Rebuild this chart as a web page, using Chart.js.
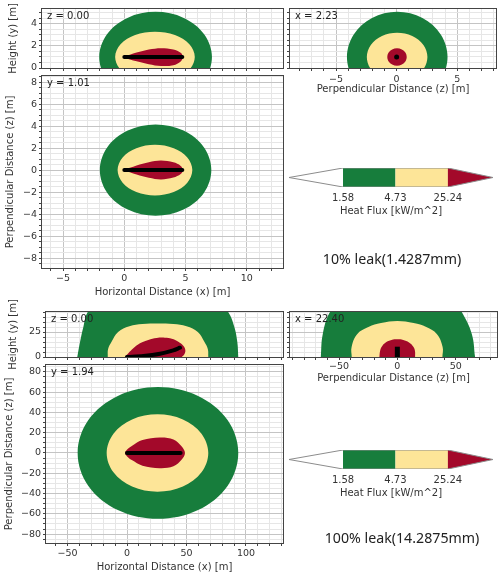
<!DOCTYPE html>
<html>
<head>
<meta charset="utf-8">
<script src="https://cdn.jsdelivr.net/npm/chart.js@4.4.1/dist/chart.umd.min.js"></script>
<style>
  html, body { margin: 0; padding: 0; background: #fff; }
  #wrap { position: relative; width: 500px; height: 574px; overflow: hidden; background: #fff; }
  #wrap canvas { position: absolute; }
  .caption { position: absolute; font-family: "Noto Sans", sans-serif; font-size: 14.2px; color: #222;
             white-space: nowrap; transform: translate(-50%, -50%); }
</style>
</head>
<body>
<div id="wrap">
  <canvas id="side10" width="290" height="75" style="left:0;top:0"></canvas>
  <canvas id="cross10" width="217" height="100" style="left:283px;top:0"></canvas>
  <canvas id="plan10" width="290" height="230" style="left:0;top:70px"></canvas>
  <canvas id="bar10" width="217" height="68" style="left:283px;top:150px"></canvas>
  <div class="caption" id="cap10" style="left:392px;top:258px"></div>
  <canvas id="side100" width="290" height="95" style="left:0;top:285px"></canvas>
  <canvas id="cross100" width="217" height="85" style="left:283px;top:300px"></canvas>
  <canvas id="plan100" width="290" height="215" style="left:0;top:359px"></canvas>
  <canvas id="bar100" width="217" height="68" style="left:283px;top:432px"></canvas>
  <div class="caption" id="cap100" style="left:402px;top:537px"></div>
</div>
<script>
// heat flux levels and band colours
const levels = [1.58, 4.73, 25.24];
const fluxColors = ['#177d3c', '#fde598', '#a3092a'];
const barExtend = [1.03, 0.86];

// ---- 10% leak ----
const caption10 = '10% leak(1.4287mm)';
const labels10 = ['z = 0.00', 'x = 2.23', 'y = 1.01'];
// side view (x, height)
const side10Green = [[7.15,1],[6.53,3.05],[4.85,4.55],[2.55,5.1],[0.25,4.55],[-1.43,3.05],[-2.05,1],[-1.43,-1.05],[0.25,-2.55],[2.55,-3.1],[4.85,-2.55],[6.53,-1.05]];
const side10Yellow = [[5.75,1],[5.31,2.15],[4.13,2.99],[2.5,3.3],[0.88,2.99],[-0.31,2.15],[-0.75,1],[-0.31,-0.15],[0.88,-0.99],[2.5,-1.3],[4.13,-0.99],[5.31,-0.15]];
const side10Red = [[4.78,1.0],[4.6,1.38],[4.0,1.68],[3.0,1.8],[2.0,1.68],[1.0,1.4],[0.45,1.2],[-0.05,1.0],[0.45,0.78],[1.0,0.62],[2.0,0.35],[3.0,0.18],[4.0,0.25],[4.6,0.6]];
const side10Flame = [[0,1.01],[4.73,1.01]];
// cross view (z, height)
const cross10Green = [[4.2,1],[3.64,3.05],[2.13,4.55],[0.05,5.1],[-2.03,4.55],[-3.54,3.05],[-4.1,1],[-3.54,-1.05],[-2.03,-2.55],[0.05,-3.1],[2.13,-2.55],[3.64,-1.05]];
const cross10Yellow = [[2.54,1],[2.21,2.1],[1.29,2.91],[0.04,3.2],[-1.21,2.91],[-2.13,2.1],[-2.46,1],[-2.13,-0.1],[-1.21,-0.91],[0.04,-1.2],[1.29,-0.91],[2.21,-0.1]];
const cross10Red = [[0.83,1],[0.72,1.4],[0.43,1.69],[0.03,1.8],[-0.37,1.69],[-0.66,1.4],[-0.77,1],[-0.66,0.6],[-0.37,0.31],[0.03,0.2],[0.43,0.31],[0.72,0.6]];
const cross10Flame = [[0,1.01]];
// plan view (x, z)
const plan10Green = [[7.1,0],[6.49,2.08],[4.83,3.59],[2.55,4.15],[0.28,3.59],[-1.39,2.08],[-2.0,0],[-1.39,-2.08],[0.28,-3.59],[2.55,-4.15],[4.83,-3.59],[6.49,-2.08]];
const plan10Yellow = [[5.55,0],[5.14,1.15],[4.03,1.99],[2.5,2.3],[0.98,1.99],[-0.14,1.15],[-0.55,0],[-0.14,-1.15],[0.98,-1.99],[2.5,-2.3],[4.03,-1.99],[5.14,-1.15]];
const plan10Red = [[4.78,0],[4.6,0.38],[4.0,0.7],[3.0,0.86],[2.0,0.72],[1.0,0.42],[0.45,0.2],[-0.05,0],[0.45,-0.2],[1.0,-0.4],[2.0,-0.7],[3.0,-0.85],[4.0,-0.68],[4.6,-0.36]];
const plan10Flame = [[0,0],[4.73,0]];

// ---- 100% leak ----
const caption100 = '100% leak(14.2875mm)';
const labels100 = ['z = 0.00', 'x = 22.40', 'y = 1.94'];
const side100Green = [[-41.8,0],[-39.5,15],[-36.7,30],[-33,45],[-21,60],[26,79],[73,60],[85,45],[90.2,30],[92.7,15],[93.5,0]];
const side100Yellow = [[-16.2,0],[-15.9,8],[-13,15.3],[-7.5,25],[2,30.8],[13,33],[26,33.6],[39,33],[50,30.8],[59.5,25],[65,15.3],[67.9,8],[68.3,0]];
const side100Red = [[-1.7,0],[1.1,3.7],[5.3,8.7],[10.9,13.7],[17.9,17],[24.9,19],[31.9,19.3],[37.6,18.3],[43.1,15.3],[47.3,11.3],[49,7],[48.2,2.7],[46,0]];
const side100Flame = [[0,0],[13.7,1],[27.7,3.3],[38.9,6.7],[44.5,9.3]];
const cross100Green = [[-65.6,0],[-63.9,23],[-57.7,45],[-45,62],[0,80],[45,62],[55.2,45],[63.8,23],[66.6,0]];
const cross100Yellow = [[-39.1,0],[-39.2,10],[-34.3,23],[-24.8,30],[-14,34],[0,36],[14,34],[24.8,30],[33.8,23],[38.8,10],[38.6,0]];
const cross100Red = [[-15.4,0],[-14.8,6],[-13.4,10.3],[-10,14.5],[-5,17],[0,17.7],[5,17],[10,14.5],[13.7,10.3],[15.1,6],[15.2,0]];
const cross100Flame = [[0,0],[0,10.3]];
const plan100Green = [[93.5,0],[84.5,32.5],[59.75,56.3],[26,65],[-7.75,56.3],[-32.5,32.5],[-41.5,0],[-32.5,-32.5],[-7.75,-56.3],[26,-65],[59.75,-56.3],[84.5,-32.5]];
const plan100Yellow = [[68.3,0],[62.6,19.1],[46.95,33.1],[25.6,38.2],[4.25,33.1],[-11.4,19.1],[-17.1,0],[-11.4,-19.1],[4.25,-33.1],[25.6,-38.2],[46.95,-33.1],[62.6,-19.1]];
const plan100Red = [[48.7,0],[46,6.5],[39,13.4],[27.5,15.3],[13,12.7],[4,7],[1,4.5],[-1.7,0],[1,-4.5],[4,-7],[13,-12.5],[27.5,-15],[39,-13.2],[46,-6.5]];
const plan100Flame = [[0,0],[45,0]];

const FONT = "'DejaVu Sans', sans-serif";
const isMul = (v, m) => Math.abs(v / m - Math.round(v / m)) < 1e-6;
const fmt = v => (v < 0 ? '\u2212' : '') + Math.abs(Math.round(v * 100) / 100);
const toXY = pts => pts.map(([x, y]) => ({x, y}));

function region(pts, color, closed) {
  return { data: toXY(pts), backgroundColor: color, borderWidth: 0, pointRadius: 0,
           fill: 'shape', tension: closed ? 0.35 : 0.4, closed };
}
function flame(pts, width, cap) {
  return { data: toXY(pts), borderColor: '#000', borderWidth: width, borderCapStyle: cap || 'round',
           pointRadius: 0, fill: false, tension: 0.3 };
}

function axis(min, max, minor, major, o) {
  return {
    type: 'linear', min, max,
    afterBuildTicks: s => {
      const t = [];
      for (let k = Math.ceil(min / minor - 1e-9); k * minor <= max + 1e-9; k++) t.push({ value: +(k * minor).toFixed(6) });
      s.ticks = t;
    },
    ticks: { display: !!o.labels, autoSkip: false, maxRotation: 0,
             padding: o.pad ?? 2, color: '#333', font: { family: FONT, size: 9.5 },
             callback: v => isMul(v, major) ? fmt(v) : '' },
    grid: { color: c => c.tick && isMul(c.tick.value, major) ? '#c4c4c4' : '#e6e6e6',
            tickColor: '#444', tickLength: 3 },
    border: { display: false },
    title: { display: !!o.title, text: o.title || '', color: '#333', font: { family: FONT, size: 10 },
             padding: { top: o.tpad ?? 2, bottom: o.tpad ?? 2 } },
    afterFit: s => {
      if (s.isHorizontal()) s.height = o.size; else s.width = o.size;
      s.paddingLeft = s.paddingRight = s.paddingTop = s.paddingBottom = 0;
    }
  };
}

// closed outlines get joined smoothly like a radar line
const loopPlugin = {
  id: 'loopLines',
  afterDatasetsUpdate(chart) {
    chart.data.datasets.forEach((ds, i) => {
      if (!ds.closed) return;
      const line = chart.getDatasetMeta(i).dataset;
      if (line) { line._loop = true; line._fullLoop = true; }
    });
  }
};

// axes box, panel label and the rotated y title (drawn without squeezing)
const framePlugin = {
  id: 'panelLabel',
  afterDatasetsDraw(chart, args, opts) {
    const {ctx, chartArea: a} = chart;
    ctx.save();
    ctx.strokeStyle = '#444';
    ctx.lineWidth = 1;
    ctx.strokeRect(a.left - 0.5, a.top - 0.5, a.right - a.left + 1, a.bottom - a.top + 1);
    ctx.fillStyle = '#222';
    ctx.font = '10px ' + FONT;
    if (opts.text) {
      ctx.textBaseline = 'middle';
      ctx.fillText(opts.text, a.left + 5, a.top + 7);
    }
    if (opts.ytitle) {
      ctx.fillStyle = '#333';
      ctx.translate(opts.ytitleX, (a.top + a.bottom) / 2);
      ctx.rotate(-Math.PI / 2);
      ctx.textAlign = 'center';
      ctx.textBaseline = 'middle';
      ctx.fillText(opts.ytitle, 0, 0);
    }
    ctx.restore();
  }
};

function panel(id, pad, xs, ys, datasets, label, ytitle, ytitleX) {
  return new Chart(document.getElementById(id), {
    type: 'line',
    data: { datasets },
    options: {
      responsive: false, animation: false, events: [],
      layout: { padding: pad },
      elements: { line: { capBezierPoints: false } },
      plugins: { legend: { display: false }, tooltip: { enabled: false },
                 panelLabel: { text: label, ytitle, ytitleX } },
      scales: { x: xs, y: ys }
    },
    plugins: [loopPlugin, framePlugin]
  });
}

function colorbar(id) {
  const n = levels.length - 1;
  const lo = -barExtend[0], hi = n + barExtend[1];
  const ds = [];
  ds.push({ data: toXY([[lo,0.5],[0,1],[n,1],[hi,0.5],[n,0],[0,0],[lo,0.5]]), borderColor: '#8c8c8c',
            borderWidth: 1, fill: false, pointRadius: 0, tension: 0 });
  ds.push({ data: toXY([[n,0],[n,1],[hi,0.5]]), backgroundColor: fluxColors[n], borderWidth: 0,
            fill: 'shape', pointRadius: 0, tension: 0 });
  for (let i = n - 1; i >= 0; i--) {
    ds.push({ data: toXY([[i,0],[i,1],[i+1,1],[i+1,0]]), backgroundColor: fluxColors[i], borderWidth: 0,
              fill: 'shape', pointRadius: 0, tension: 0 });
  }
  ds.push({ data: toXY([[lo,0.5],[0,1],[0,0]]), backgroundColor: '#fff', borderWidth: 0,
            fill: 'shape', pointRadius: 0, tension: 0 });
  return new Chart(document.getElementById(id), {
    type: 'line',
    data: { datasets: ds },
    options: {
      responsive: false, animation: false, events: [],
      layout: { padding: { top: 18, right: 7, bottom: 0, left: 6 } },
      plugins: { legend: { display: false }, tooltip: { enabled: false } },
      scales: {
        x: { type: 'linear', min: lo, max: hi,
             afterBuildTicks: s => { s.ticks = levels.map((_, i) => ({ value: i })); },
             ticks: { autoSkip: false, maxRotation: 0, padding: 5, color: '#333', font: { family: FONT, size: 10 },
                      callback: v => levels[Math.round(v)].toFixed(2) },
             grid: { display: false, drawTicks: false }, border: { display: false },
             title: { display: true, text: 'Heat Flux [kW/m^2]', color: '#333', font: { family: FONT, size: 10 },
                      padding: { top: 0, bottom: 1 } },
             afterFit: s => { s.height = 31; s.paddingLeft = s.paddingRight = 0; } },
        y: { type: 'linear', min: 0, max: 1, display: false }
      }
    }
  });
}

function band(green, yellow, red, closed) {
  return [region(red, fluxColors[2], closed), region(yellow, fluxColors[1], closed), region(green, fluxColors[0], closed)];
}

// 10% leak panels
panel('side10', { top: 9, right: 7, bottom: 4, left: 0 },
  axis(-6.72, 12.95, 1, 5, { labels: false, size: 3 }),
  axis(0, 5.36, 0.5, 2, { labels: true, size: 42 }),
  [flame(side10Flame, 4), ...band(side10Green, side10Yellow, side10Red, true)], labels10[0],
  'Height (y) [m]', 13);

panel('cross10', { top: 9, right: 3, bottom: 0, left: 0 },
  axis(-8.8, 8.2, 1, 5, { labels: true, size: 32, pad: 3, title: 'Perpendicular Distance (z) [m]', tpad: 5 }),
  axis(0, 5.36, 0.5, 2, { labels: false, size: 7 }),
  [{ data: toXY(cross10Flame), showLine: false, pointRadius: 2.5, pointBackgroundColor: '#000', pointBorderWidth: 0 },
   ...band(cross10Green, cross10Yellow, cross10Red, true)], labels10[1]);

panel('plan10', { top: 6, right: 7, bottom: 0, left: 0 },
  axis(-6.72, 12.95, 1, 5, { labels: true, size: 32, pad: 2, title: 'Horizontal Distance (x) [m]', tpad: 2 }),
  axis(-8.9, 8.55, 0.5, 2, { labels: true, size: 42 }),
  [flame(plan10Flame, 4), ...band(plan10Green, plan10Yellow, plan10Red, true)], labels10[2],
  'Perpendicular Distance (z) [m]', 10);

colorbar('bar10');
document.getElementById('cap10').textContent = caption10;

// 100% leak panels
panel('side100', { top: 27, right: 7, bottom: 20, left: 0 },
  axis(-68.1, 131.1, 10, 50, { labels: false, size: 3 }),
  axis(0, 45, 5, 25, { labels: true, size: 46 }),
  [flame(side100Flame, 4), ...band(side100Green, side100Yellow, side100Red, false)], labels100[0],
  'Height (y) [m]', 13);

panel('cross100', { top: 12, right: 3, bottom: 0, left: 0 },
  axis(-92, 85.4, 10, 50, { labels: true, size: 28, pad: 1, title: 'Perpendicular Distance (z) [m]', tpad: 1 }),
  axis(0, 45, 5, 25, { labels: false, size: 7 }),
  [flame(cross100Flame, 5, 'butt'), ...band(cross100Green, cross100Yellow, cross100Red, false)], labels100[1]);

panel('plan100', { top: 6, right: 7, bottom: 0, left: 0 },
  axis(-68.1, 131.1, 10, 50, { labels: true, size: 31, pad: 2, title: 'Horizontal Distance (x) [m]', tpad: 1 }),
  axis(-88.8, 86.8, 5, 20, { labels: true, size: 46 }),
  [flame(plan100Flame, 4), ...band(plan100Green, plan100Yellow, plan100Red, true)], labels100[2],
  'Perpendicular Distance (z) [m]', 9);

colorbar('bar100');
document.getElementById('cap100').textContent = caption100;
</script>
</body>
</html>
